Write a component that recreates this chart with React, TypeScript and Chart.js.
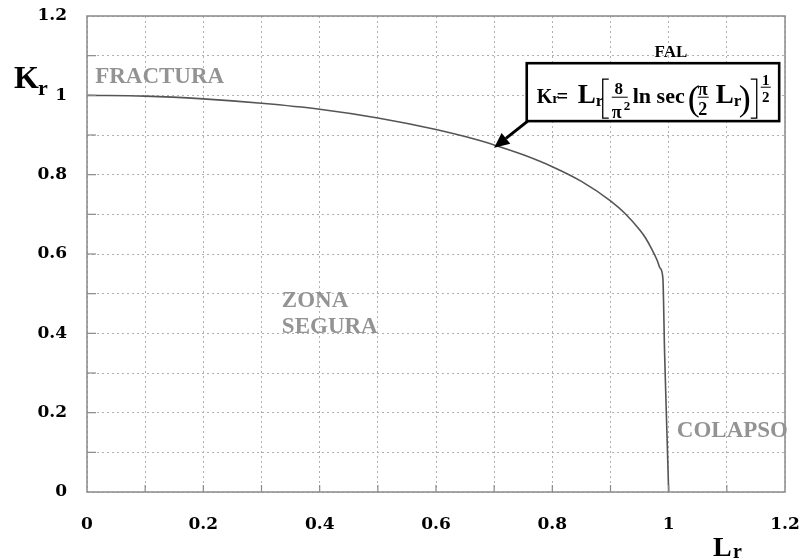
import React, { useEffect, useRef } from "react";
import { Chart, registerables } from "chart.js";

Chart.register(...registerables);

// FAL curve (Lr, Kr)
const lrValues = [0, 0.1, 0.2, 0.3, 0.4, 0.5, 0.6, 0.65, 0.7, 0.75, 0.8, 0.85, 0.9, 0.925, 0.95, 0.96, 0.97, 0.98, 0.985, 0.99, 0.993, 0.997, 1.0];
const krValues = [1.0, 0.998, 0.991, 0.98, 0.965, 0.943, 0.914, 0.896, 0.875, 0.85, 0.82, 0.783, 0.734, 0.702, 0.661, 0.641, 0.615, 0.585, 0.565, 0.54, 0.35, 0.15, 0.0];

const xTickLabels = ["0", "0.2", "0.4", "0.6", "0.8", "1", "1.2"];
const yTickLabels = ["0", "0.2", "0.4", "0.6", "0.8", "1", "1.2"];

const regionLabels = [
  { text: "FRACTURA", lr: 0.014, kr: 1.031 },
  { text: "ZONA", lr: 0.335, kr: 0.466 },
  { text: "SEGURA", lr: 0.335, kr: 0.401 },
  { text: "COLAPSO", lr: 1.014, kr: 0.139 },
];

const SERIF = "'Liberation Serif', 'Times New Roman', serif";
const TICK_FONT = "'DejaVu Serif', serif";

function labelFor(v: number, labels: string[]) {
  const k = Math.round(v * 10);
  if (k % 2 !== 0) return "";
  return labels[k / 2] ?? "";
}

const annotPlugin = {
  id: "annot",
  afterDatasetsDraw(chart: any) {
    const { ctx, chartArea: a, scales } = chart;
    const x = scales.x;
    const y = scales.y;
    ctx.save();
    ctx.setLineDash([]);

    // frame
    ctx.strokeStyle = "#8a8a8a";
    ctx.lineWidth = 1.5;
    ctx.strokeRect(a.left, a.top, a.right - a.left, a.bottom - a.top);

    // inner tick marks
    ctx.lineWidth = 1.2;
    ctx.strokeStyle = "#8a8a8a";
    for (let k = 1; k < 12; k++) {
      const v = k / 10;
      const py = y.getPixelForValue(v);
      ctx.beginPath();
      ctx.moveTo(a.left, py);
      ctx.lineTo(a.left + 9, py);
      ctx.stroke();
      const px = x.getPixelForValue(v);
      ctx.beginPath();
      ctx.moveTo(px, a.bottom);
      ctx.lineTo(px, a.bottom - 7);
      ctx.stroke();
    }

    // region labels
    ctx.fillStyle = "#939393";
    ctx.font = `bold 23px ${SERIF}`;
    ctx.textBaseline = "alphabetic";
    ctx.textAlign = "left";
    for (const r of regionLabels) {
      ctx.fillText(r.text, x.getPixelForValue(r.lr), y.getPixelForValue(r.kr));
    }

    // FAL
    ctx.fillStyle = "#000";
    ctx.font = `bold 17px ${SERIF}`;
    ctx.textAlign = "center";
    ctx.fillText("FAL", x.getPixelForValue(1.004), y.getPixelForValue(1.097));

    // formula box
    const bx = x.getPixelForValue(0.756);
    const by = y.getPixelForValue(1.081);
    const bw = x.getPixelForValue(1.19) - bx;
    const bh = y.getPixelForValue(0.935) - by;
    ctx.fillStyle = "#fff";
    ctx.fillRect(bx, by, bw, bh);
    ctx.strokeStyle = "#000";
    ctx.lineWidth = 2.6;
    ctx.strokeRect(bx, by, bw, bh);

    // arrow
    const sx = bx + 1;
    const sy = by + bh;
    const tx = x.getPixelForValue(0.7);
    const ty = y.getPixelForValue(0.868);
    const ang = Math.atan2(ty - sy, tx - sx);
    const hl = 15;
    const hw = 7;
    const baseX = tx - hl * Math.cos(ang);
    const baseY = ty - hl * Math.sin(ang);
    ctx.lineWidth = 3;
    ctx.beginPath();
    ctx.moveTo(sx, sy);
    ctx.lineTo(baseX, baseY);
    ctx.stroke();
    ctx.fillStyle = "#000";
    ctx.beginPath();
    ctx.moveTo(tx, ty);
    ctx.lineTo(baseX + hw * Math.sin(ang), baseY - hw * Math.cos(ang));
    ctx.lineTo(baseX - hw * Math.sin(ang), baseY + hw * Math.cos(ang));
    ctx.closePath();
    ctx.fill();

    // formula text (offsets relative to box origin)
    const put = (t: string, font: string, px: number, base: number, align: CanvasTextAlign = "left") => {
      ctx.font = font;
      ctx.textAlign = align;
      ctx.fillText(t, bx + px, by + base);
      return px + ctx.measureText(t).width;
    };
    const hline = (x1: number, x2: number, yy: number, w = 1.2) => {
      ctx.lineWidth = w;
      ctx.beginPath();
      ctx.moveTo(bx + x1, by + yy);
      ctx.lineTo(bx + x2, by + yy);
      ctx.stroke();
    };
    const bracket = (xv: number, dir: number) => {
      ctx.lineWidth = 1.3;
      ctx.beginPath();
      ctx.moveTo(bx + xv + dir * 6, by + 16);
      ctx.lineTo(bx + xv, by + 16);
      ctx.lineTo(bx + xv, by + 55);
      ctx.lineTo(bx + xv + dir * 6, by + 55);
      ctx.stroke();
    };
    ctx.fillStyle = "#000";
    ctx.textBaseline = "alphabetic";
    let cx = put("K", `bold 20px ${SERIF}`, 10, 40);
    cx = put("r", `bold 15px ${SERIF}`, cx, 40);
    put("=", `bold 20px ${SERIF}`, 30, 40);
    cx = put("L", `bold 27px ${SERIF}`, 51, 40);
    put("r", `bold 17px ${SERIF}`, cx, 43);
    bracket(76, 1);
    put("8", `bold 17px ${SERIF}`, 92, 31, "center");
    hline(85, 101, 34, 1);
    put("π", `bold 18px ${SERIF}`, 90, 55, "center");
    put("2", `bold 13px ${SERIF}`, 97, 47);
    put("ln sec", `bold 22px ${SERIF}`, 106, 40);
    put("(", `36px ${SERIF}`, 161, 47);
    put("π", `bold 18px ${SERIF}`, 176, 32, "center");
    hline(171, 182, 34, 1);
    put("2", `bold 18px ${SERIF}`, 176, 52, "center");
    cx = put("L", `bold 27px ${SERIF}`, 189, 40);
    put("r", `bold 17px ${SERIF}`, cx, 43);
    put(")", `36px ${SERIF}`, 212, 47);
    bracket(230, -1);
    put("1", `bold 15px ${SERIF}`, 239, 22, "center");
    hline(234, 244, 24, 1);
    put("2", `bold 15px ${SERIF}`, 239, 39, "center");

    ctx.restore();
  },
  afterDraw(chart: any) {
    const { ctx } = chart;
    ctx.save();
    ctx.fillStyle = "#000";
    ctx.textAlign = "left";
    ctx.textBaseline = "alphabetic";
    // Kr title
    ctx.font = `bold 32px ${SERIF}`;
    ctx.fillText("K", 14, 88);
    ctx.font = `bold 22px ${SERIF}`;
    ctx.fillText("r", 38, 95);
    // Lr title
    ctx.font = `bold 28px ${SERIF}`;
    ctx.fillText("L", 713, 556);
    ctx.font = `bold 20px ${SERIF}`;
    ctx.fillText("r", 733, 558);
    ctx.restore();
  },
};

function zeroPad(s: any) {
  s.paddingLeft = 0;
  s.paddingRight = 0;
  s.paddingTop = 0;
  s.paddingBottom = 0;
}

export default function App() {
  const ref = useRef<HTMLCanvasElement | null>(null);
  useEffect(() => {
    if (!ref.current) return;
    const data = lrValues.map((lr, i) => ({ x: lr, y: krValues[i] }));
    const chart = new Chart(ref.current, {
      type: "line",
      data: {
        datasets: [
          {
            data,
            borderColor: "#555",
            borderWidth: 1.6,
            pointRadius: 0,
            fill: false,
            cubicInterpolationMode: "monotone",
          },
        ],
      },
      options: {
        responsive: false,
        animation: false,
        layout: { padding: { left: 0, right: 17, top: 16, bottom: 0 } },
        plugins: { legend: { display: false }, tooltip: { enabled: false } },
        scales: {
          x: {
            type: "linear",
            min: 0,
            max: 1.2,
            afterFit: (s: any) => {
              s.height = 68;
              zeroPad(s);
            },
            ticks: {
              stepSize: 0.1,
              autoSkip: false,
              maxRotation: 0,
              padding: 22,
              color: "#000",
              font: { family: TICK_FONT, size: 17, weight: "bold" },
              callback: (v: any) => labelFor(Number(v), xTickLabels),
            },
            grid: { color: "#b0b0b0", lineWidth: 1, drawTicks: false },
            border: { display: false, dash: [2, 3] },
          },
          y: {
            type: "linear",
            min: 0,
            max: 1.2,
            afterFit: (s: any) => {
              s.width = 87;
              zeroPad(s);
            },
            ticks: {
              stepSize: 0.1,
              autoSkip: false,
              padding: 20,
              color: "#000",
              font: { family: TICK_FONT, size: 17, weight: "bold" },
              callback: (v: any) => labelFor(Number(v), yTickLabels),
            },
            grid: { color: "#b0b0b0", lineWidth: 1, drawTicks: false },
            border: { display: false, dash: [2, 3] },
          },
        },
      },
      plugins: [annotPlugin],
    });
    return () => chart.destroy();
  }, []);
  return (
    <div style={{ position: "absolute", left: 0, top: 0, width: 802, height: 560, background: "#fff" }}>
      <canvas ref={ref} width={802} height={560} />
    </div>
  );
}
